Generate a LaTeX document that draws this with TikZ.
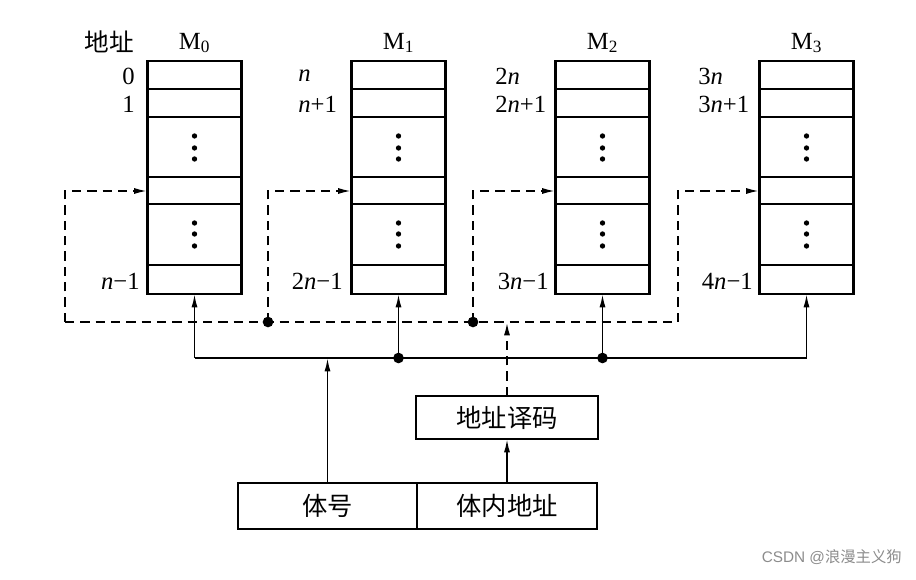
\documentclass[tikz,border=0pt]{standalone}
\usepackage{fontspec}
\setmainfont{Liberation Serif}
\newfontfamily\cjk{Noto Sans CJK SC}
\newfontfamily\wmfont{Liberation Sans}
\usetikzlibrary{arrows.meta}
\begin{document}
\begin{tikzpicture}[x=0.75pt,y=-0.75pt,
  membox/.style={draw,line width=2.2pt,minimum width=70.5pt,minimum height=174.75pt,inner sep=0pt,outer sep=0pt},
  rowline/.style={line width=1.8pt},
  plainbox/.style={draw,line width=2pt,inner sep=0pt,outer sep=0pt,font=\cjk\fontsize{19pt}{22pt}\selectfont},
  lbl/.style={font=\fontsize{18.5pt}{20pt}\selectfont,inner sep=0pt},
  dashline/.style={line width=1.4pt,dash pattern=on 7pt off 4.5pt},
  solidline/.style={line width=1.3pt},
  tip/.style={-{Latex[length=10pt,width=4.5pt]}},
  dot/.style={circle,fill,inner sep=0pt,minimum size=8pt}]
\useasboundingbox (0,0) rectangle (916,580);
\coordinate (lvl) at (0,191);
\coordinate (dbus) at (0,322);
\coordinate (sbus) at (0,358);
% memory banks
\foreach \i in {0,1,2,3}{
  \node[membox] (m\i) at ({194.5+204*\i},177.5) {};
  \foreach \yy in {89,117,177,204,265}{
    \coordinate (r\i-\yy) at (0,\yy);
    \draw[rowline] (m\i.west |- r\i-\yy) -- (m\i.east |- r\i-\yy);
  }
  \foreach \yy in {136,148,159,223,234,246}{
    \fill ({194.5+204*\i},\yy) circle (2pt);
  }
  \node[lbl] (t\i) at ({194.5+204*\i},43) {M\textsubscript{\i}};
}
% address labels
\node[lbl,font=\cjk\fontsize{18.5pt}{20pt}\selectfont] (addr) at (109,42) {地址};
\node[lbl,anchor=east] (a0) at (135,76) {0};
\node[lbl,anchor=east] (a1) at (135,104) {1};
\node[lbl,anchor=east] (a2) at (140,281) {\textit{n}−1};
\node[lbl,anchor=west] (b0) at (298,76) {\textit{n}};
\node[lbl,anchor=west] (b1) at (298,104) {\textit{n}+1};
\node[lbl,anchor=east] (b2) at (343,281) {2\textit{n}−1};
\node[lbl,anchor=west] (c0) at (495,76) {2\textit{n}};
\node[lbl,anchor=west] (c1) at (495,104) {2\textit{n}+1};
\node[lbl,anchor=east] (c2) at (549,281) {3\textit{n}−1};
\node[lbl,anchor=west] (e0) at (698,76) {3\textit{n}};
\node[lbl,anchor=west] (e1) at (698,104) {3\textit{n}+1};
\node[lbl,anchor=east] (e2) at (753,281) {4\textit{n}−1};
% bottom boxes
\node[plainbox,minimum width=134.25pt,minimum height=34.5pt] (tihao) at (327.5,506) {体号};
\node[plainbox,minimum width=135pt,minimum height=34.5pt] (tinei) at (507,506) {体内地址};
\node[plainbox,minimum width=136.5pt,minimum height=32.25pt] (dec) at (507,417.5) {地址译码};
% dashed bus
\coordinate (d0) at (65,322);
\coordinate (d1) at (268,322);
\coordinate (d2) at (473,322);
\coordinate (d3) at (678,322);
\draw[dashline] (d0) -- (d3);
\foreach \i in {0,1,2,3}{
  \draw[dashline,tip] (d\i) |- (m\i.west |- lvl);
}
\node[dot] at (d1) {};
\node[dot] at (d2) {};
\draw[dashline,tip] (dec.north) -- (dec.north |- dbus);
% solid bus
\draw[solidline] (m0.south |- sbus) -- (m3.south |- sbus);
\foreach \i in {0,1,2,3}{
  \draw[solidline,tip] (m\i.south |- sbus) -- (m\i.south);
}
\node[dot] at (m1.south |- sbus) {};
\node[dot] at (m2.south |- sbus) {};
\draw[solidline,tip] (tihao.north) -- (tihao.north |- sbus);
\draw[solidline,tip] (tinei.north) -- (dec.south);
% watermark
\node[inner sep=0pt,anchor=east,text=black!45,font=\fontsize{11.5pt}{13pt}\selectfont] (wm) at (902,557) {\wmfont CSDN @\cjk 浪漫主义狗};
\end{tikzpicture}
\end{document}
